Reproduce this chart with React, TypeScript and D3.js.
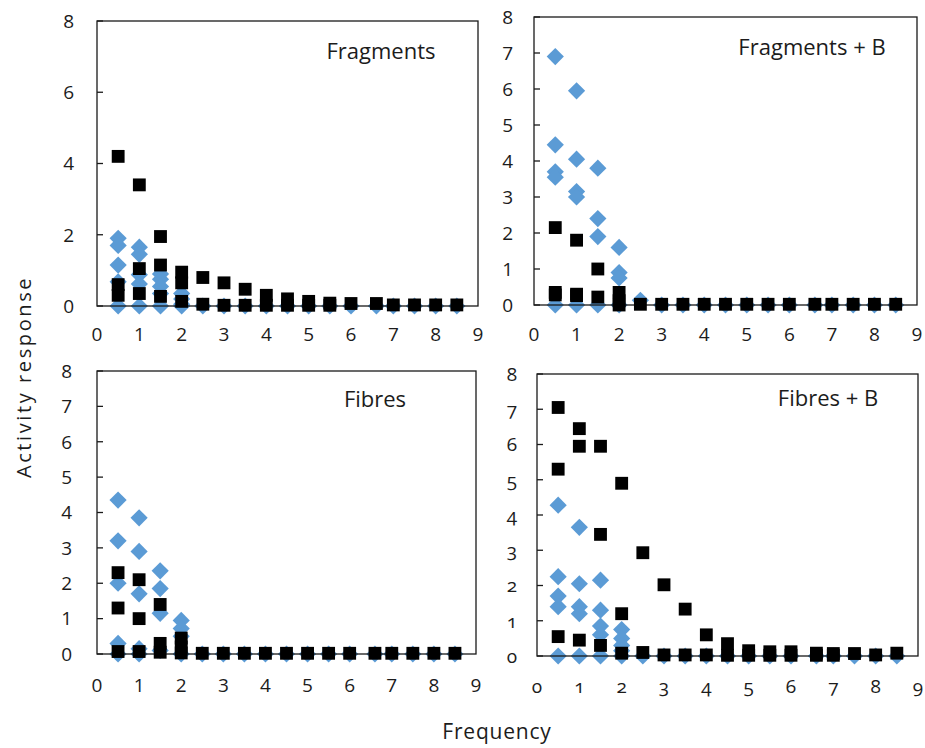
import React from "react";
import * as d3 from "d3";

// Stimulation frequencies shared by every panel
const frequencies = [0.5, 1, 1.5, 2, 2.5, 3, 3.5, 4, 4.5, 5, 5.5, 6, 6.6, 7, 7.5, 8, 8.5];

// Replicate responses at each frequency (black squares / blue diamonds)
const fragmentsSquares = [
  [4.2, 0.6, 0.3], [3.4, 1.05, 0.35], [1.95, 1.15, 0.27], [0.95, 0.65, 0.13],
  [0.8, 0.05], [0.65, 0.02], [0.47, 0.02], [0.3, 0.02], [0.2, 0.02], [0.13, 0.02],
  [0.08, 0.02], [0.07], [0.07], [0.03], [0.03], [0.03], [0.03],
];
const fragmentsDiamonds = [
  [1.9, 1.7, 1.15, 0.68, 0], [1.65, 1.45, 0.88, 0.62, 0], [0.9, 0.75, 0.55, 0.35, 0],
  [0.35, 0.2, 0.05, 0], [0], [0], [0], [0], [0], [0], [0], [0], [0], [0], [0], [0], [0],
];

const fragmentsBSquares = [
  [2.15, 0.35, 0.28], [1.8, 0.3, 0.26], [1.0, 0.22], [0.35, 0.12, 0],
  [0.02], [0.02], [0.02], [0.02], [0.02], [0.02], [0.02], [0.02], [0.02], [0.02], [0.02], [0.02], [0.02],
];
const fragmentsBDiamonds = [
  [6.9, 4.45, 3.7, 3.55, 0], [5.95, 4.05, 3.15, 3.0, 0], [3.8, 2.4, 1.9, 0],
  [1.6, 0.9, 0.75, 0], [0.13], [0], [0], [0], [0], [0], [0], [0], [0], [0], [0], [0], [0],
];

const fibresSquares = [
  [2.3, 1.3, 0.07], [2.1, 1.0, 0.07], [1.4, 0.3, 0.05], [0.45, 0.2, 0.03],
  [0.02], [0.02], [0.02], [0.02], [0.02], [0.02], [0.02], [0.02], [0.02], [0.02], [0.02], [0.02], [0.02],
];
const fibresDiamonds = [
  [4.35, 3.2, 2.0, 0.3, 0], [3.85, 2.9, 1.7, 0.15, 0], [2.35, 1.85, 1.15, 0.1],
  [0.95, 0.72, 0.5, 0], [0], [0], [0], [0], [0], [0], [0], [0], [0], [0], [0], [0], [0],
];

const fibresBSquares = [
  [7.05, 5.3, 0.55], [6.45, 5.95, 0.45], [5.95, 3.45, 0.3], [4.9, 1.2, 0.08],
  [2.93, 0.1], [2.02, 0.03], [1.33, 0.03], [0.6, 0.03], [0.35, 0.02], [0.15, 0.02],
  [0.12, 0.02], [0.12, 0.02], [0.08, 0.02], [0.07, 0.02], [0.07], [0.03], [0.08],
];
const fibresBDiamonds = [
  [4.28, 2.25, 1.7, 1.4, 0], [3.65, 2.05, 1.4, 1.2, 0], [2.15, 1.3, 0.85, 0.6, 0],
  [0.75, 0.5, 0.3, 0.15, 0], [0], [0], [0], [0], [0], [0], [0], [0], [0], [0], [0], [0], [0],
];

// Axis ticks
const xTicks = [0, 1, 2, 3, 4, 5, 6, 7, 8, 9];
const yTicksEven = [0, 2, 4, 6, 8];
const yTicksAll = [0, 1, 2, 3, 4, 5, 6, 7, 8];

// Labels
const panelTitles = ["Fragments", "Fragments + B", "Fibres", "Fibres + B"];
const yAxisTitle = "Activity response";
const xAxisTitle = "Frequency";

const FONT = "'Open Sans', 'DejaVu Sans', sans-serif";
const TEXT = "#1c1c1c";
const BLUE = "#5b9bd5";

type PanelSpec = {
  title: string;
  left: number; right: number; top: number; bottom: number;
  yTicks: number[];
  squares: number[][];
  diamonds: number[][];
  titleX: number; titleY: number;
  xLabelY: number;
  yLabelGap: number;
  oldstyle?: boolean;
};

const panels: PanelSpec[] = [
  { title: panelTitles[0], left: 97, right: 478, top: 21, bottom: 306, yTicks: yTicksEven,
    squares: fragmentsSquares, diamonds: fragmentsDiamonds, titleX: 381, titleY: 59, xLabelY: 341, yLabelGap: 23 },
  { title: panelTitles[1], left: 534, right: 917, top: 17, bottom: 305, yTicks: yTicksAll,
    squares: fragmentsBSquares, diamonds: fragmentsBDiamonds, titleX: 812, titleY: 55, xLabelY: 341, yLabelGap: 21 },
  { title: panelTitles[2], left: 97, right: 476, top: 371, bottom: 654, yTicks: yTicksAll,
    squares: fibresSquares, diamonds: fibresDiamonds, titleX: 375, titleY: 407, xLabelY: 692, yLabelGap: 25 },
  { title: panelTitles[3], left: 537, right: 918, top: 374, bottom: 656, yTicks: yTicksAll,
    squares: fibresBSquares, diamonds: fibresBDiamonds, titleX: 828, titleY: 406, xLabelY: 693, yLabelGap: 20, oldstyle: true },
];

const squarePath = d3.symbol(d3.symbolSquare, 165)()!;
const diamondPath = d3.symbol(d3.symbolSquare, 148)()!;

function flatten(values: number[][]) {
  return values.flatMap((ys, i) => ys.map((y) => ({ x: frequencies[i], y })));
}

function Panel({ p }: { p: PanelSpec }) {
  const x = d3.scaleLinear().domain([0, 9]).range([p.left, p.right]);
  const y = d3.scaleLinear().domain([0, 8]).range([p.bottom, p.top]);
  const numStyle = p.oldstyle ? { fontVariantNumeric: "oldstyle-nums" as const } : {};
  return (
    <g>
      {/* diamonds sit beneath the squares */}
      {flatten(p.diamonds).map((d, i) => (
        <path key={"d" + i} d={diamondPath} fill={BLUE}
          transform={`translate(${x(d.x)},${y(d.y)}) rotate(45)`} />
      ))}
      <rect x={p.left} y={p.top} width={p.right - p.left} height={p.bottom - p.top}
        fill="none" stroke="#1a1a1a" strokeWidth={1.3} />
      {p.yTicks.map((t) => (
        <line key={"yt" + t} x1={p.left} x2={p.left + 6} y1={y(t)} y2={y(t)} stroke="#1a1a1a" strokeWidth={1.3} />
      ))}
      {flatten(p.squares).map((d, i) => (
        <path key={"s" + i} d={squarePath} fill="#000"
          transform={`translate(${x(d.x)},${y(d.y)})`} />
      ))}
      {p.yTicks.map((t) => (
        <text key={"yl" + t} x={p.left - p.yLabelGap} y={y(t)} dy="0.36em" textAnchor="end"
          fontSize={19} fontFamily={FONT} fill={TEXT} style={numStyle}>{t}</text>
      ))}
      {xTicks.map((t) => (
        <text key={"xl" + t} x={x(t)} y={p.xLabelY} textAnchor="middle"
          fontSize={19} fontFamily={FONT} fill={TEXT} style={numStyle}>{t}</text>
      ))}
      <text x={p.titleX} y={p.titleY} textAnchor="middle" fontSize={22} fontFamily={FONT} fill={TEXT}>
        {p.title}
      </text>
    </g>
  );
}

export default function App() {
  return (
    <svg width={925} height={748} style={{ position: "absolute", left: 0, top: 0, background: "#fff" }}>
      <rect width={925} height={748} fill="#fff" />
      {panels.map((p) => <Panel key={p.title} p={p} />)}
      <text transform="translate(31,377) rotate(-90)" textAnchor="middle" fontSize={20}
        letterSpacing={2.6} fontFamily={FONT} fill={TEXT}>{yAxisTitle}</text>
      <text x={497} y={739} textAnchor="middle" fontSize={21} letterSpacing={0.8}
        fontFamily={FONT} fill={TEXT}>{xAxisTitle}</text>
    </svg>
  );
}
